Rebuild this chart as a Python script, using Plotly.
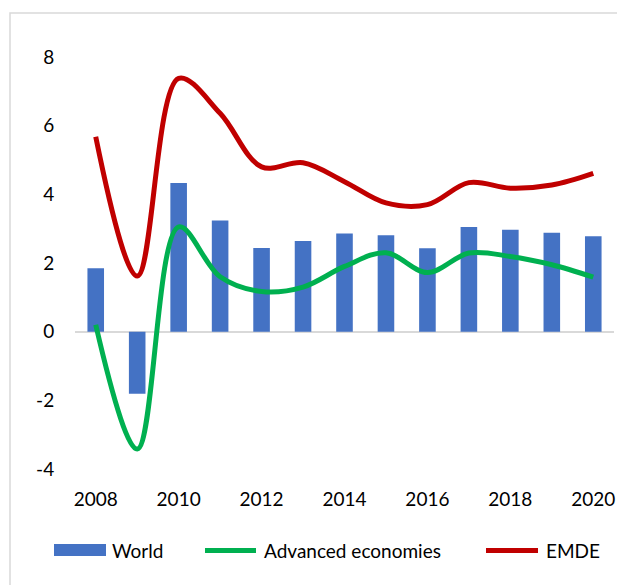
import plotly.graph_objects as go

years = list(range(2008, 2021))
world = [1.85, -1.81, 4.33, 3.24, 2.44, 2.64, 2.86, 2.81, 2.43, 3.05, 2.97, 2.88, 2.78]
advanced = [0.2, -3.42, 3.05, 1.6, 1.17, 1.3, 1.9, 2.3, 1.72, 2.29, 2.19, 1.95, 1.59]
emde = [5.68, 1.62, 7.38, 6.36, 4.8, 4.92, 4.37, 3.75, 3.7, 4.34, 4.18, 4.27, 4.61]
xtick_vals = [2008, 2010, 2012, 2014, 2016, 2018, 2020]
ytick_vals = [-4, -2, 0, 2, 4, 6, 8]
ytick_text = ["-4", "-2", "0", "2", "4", "6", "8"]
series_names = ["World", "Advanced economies", "EMDE"]
colors = ["#4472C4", "#00B050", "#C00000"]

FONT = "Lato"
FS = 19

fig = go.Figure()
fig.add_trace(go.Bar(x=years, y=world, name=series_names[0], marker_color=colors[0],
                     width=0.4, marker_line_width=0, showlegend=False))
fig.add_trace(go.Scatter(x=years, y=advanced, name=series_names[1], mode="lines",
                         line=dict(color=colors[1], width=5, shape="spline", smoothing=1.0),
                         showlegend=False))
fig.add_trace(go.Scatter(x=years, y=emde, name=series_names[2], mode="lines",
                         line=dict(color=colors[2], width=5, shape="spline", smoothing=1.0),
                         showlegend=False))

L, R, T, B = 75, 3, 57, 116
W, H = 617, 585
pw = W - L - R
ph = H - T - B

def px2x(px):
    return (px - L) / pw

def py2y(py):
    return (H - B - py) / ph

shapes = [dict(type="rect", xref="paper", yref="paper",
               x0=px2x(10), x1=px2x(640), y0=py2y(620), y1=py2y(13),
               line=dict(color="#D9D9D9", width=1.5), fillcolor="rgba(0,0,0,0)",
               layer="below")]
# legend keys
shapes.append(dict(type="rect", xref="paper", yref="paper",
                   x0=px2x(54), x1=px2x(106), y0=py2y(556), y1=py2y(544),
                   line=dict(width=0), fillcolor=colors[0]))
shapes.append(dict(type="line", xref="paper", yref="paper",
                   x0=px2x(205), x1=px2x(256), y0=py2y(550.5), y1=py2y(550.5),
                   line=dict(color=colors[1], width=5)))
shapes.append(dict(type="line", xref="paper", yref="paper",
                   x0=px2x(486), x1=px2x(538), y0=py2y(550.5), y1=py2y(550.5),
                   line=dict(color=colors[2], width=5)))

annotations = []
for name, xpx in zip(series_names, [110, 262, 544]):
    annotations.append(dict(text=name, xref="paper", yref="paper",
                            x=px2x(xpx), y=py2y(550), xanchor="left", yanchor="middle",
                            showarrow=False, font=dict(size=FS, family=FONT, color="#000000")))

fig.update_layout(
    width=W, height=H,
    margin=dict(l=L, r=R, t=T, b=B),
    paper_bgcolor="white", plot_bgcolor="white",
    font=dict(family=FONT, size=FS, color="#000000"),
    showlegend=False,
    xaxis=dict(range=[2007.5, 2020.5], tickvals=xtick_vals, showgrid=False,
               showline=False, zeroline=False, ticks="outside", ticklen=13,
               tickcolor="rgba(0,0,0,0)", tickfont=dict(size=FS)),
    yaxis=dict(range=[-4, 8], tickvals=ytick_vals, ticktext=ytick_text,
               showgrid=False, showline=False,
               zeroline=True, zerolinecolor="#D9D9D9", zerolinewidth=1.5,
               ticks="outside", ticklen=16, tickcolor="rgba(0,0,0,0)",
               tickfont=dict(size=FS)),
    shapes=shapes,
    annotations=annotations,
)

fig.write_html("out.html", config={"displayModeBar": False},
               post_script="document.body.style.margin='0';document.body.style.overflow='hidden';")
